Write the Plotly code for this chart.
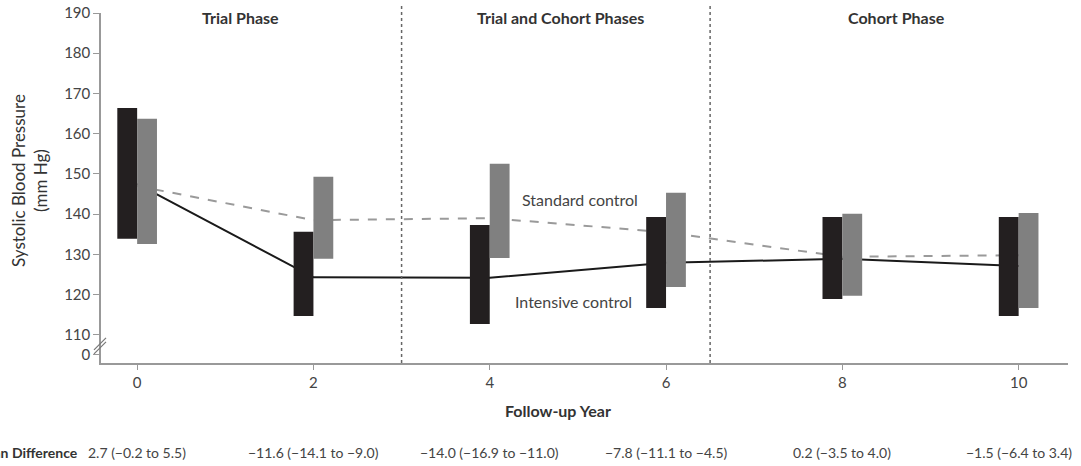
import plotly.graph_objects as go

years = [0, 2, 4, 6, 8, 10]
int_low = [133.9, 114.7, 112.7, 116.7, 118.9, 114.7]
int_high = [166.4, 135.6, 137.3, 139.3, 139.3, 139.3]
std_low = [132.6, 128.9, 129.1, 121.9, 119.7, 116.7]
std_high = [163.7, 149.3, 152.5, 145.3, 140.1, 140.3]
int_mean = [147.5, 124.3, 124.2, 127.9, 128.9, 127.1]
std_mean = [147.0, 138.5, 139.0, 135.5, 129.4, 129.8]
differences = ["2.7 (\u22120.2 to 5.5)", "\u221211.6 (\u221214.1 to \u22129.0)",
               "\u221214.0 (\u221216.9 to \u221211.0)", "\u22127.8 (\u221211.1 to \u22124.5)",
               "0.2 (\u22123.5 to 4.0)", "\u22121.5 (\u22126.4 to 3.4)"]
y_ticks = [105, 110, 120, 130, 140, 150, 160, 170, 180, 190]
y_ticktext = ["0", "110", "120", "130", "140", "150", "160", "170", "180", "190"]
phase_bounds = [3, 6.5]
phases = [("Trial Phase", 1.17), ("Trial and Cohort Phases", 4.8), ("Cohort Phase", 8.62)]

W = 0.225
FONT = "Lato"
L, T, PW, PH = 101, 13, 967, 350


def px_x(p):
    return (p - L) / PW


def px_y(p):
    return (T + PH - p) / PH


def rects(xs, lo, hi, left):
    rx, ry = [], []
    for x, a, b in zip(xs, lo, hi):
        x0 = x - W if left else x
        x1 = x if left else x + W
        rx += [x0, x1, x1, x0, x0, None]
        ry += [a, a, b, b, a, None]
    return rx, ry


fig = go.Figure()
fig.add_trace(go.Scatter(x=years, y=std_mean, mode="lines",
                         line=dict(color="#9a9a9a", width=2, dash="dash"),
                         showlegend=False, hoverinfo="skip"))
fig.add_trace(go.Scatter(x=years, y=int_mean, mode="lines",
                         line=dict(color="#1a1a1a", width=2),
                         showlegend=False, hoverinfo="skip"))
bx, by = rects(years, int_low, int_high, True)
fig.add_trace(go.Scatter(x=bx, y=by, mode="lines", fill="toself",
                         fillcolor="#231f20", line=dict(width=0, color="#231f20"),
                         showlegend=False, hoverinfo="skip"))
gx, gy = rects(years, std_low, std_high, False)
fig.add_trace(go.Scatter(x=gx, y=gy, mode="lines", fill="toself",
                         fillcolor="#808080", line=dict(width=0, color="#808080"),
                         showlegend=False, hoverinfo="skip"))

shapes = []
for b in phase_bounds:
    shapes.append(dict(type="line", xref="x", yref="paper", x0=b, x1=b, y0=0, y1=1.025,
                       line=dict(color="#666666", width=1.5, dash="dot")))
# axis break marks
for off in [0, 4]:
    shapes.append(dict(type="line", xref="paper", yref="y", xsizemode="pixel", ysizemode="pixel",
                       xanchor=0, yanchor=107.5, x0=-7, x1=5, y0=-5 - off, y1=7 - off,
                       line=dict(color="#777777", width=1.2), layer="above"))

annotations = []
for text, xc in phases:
    annotations.append(dict(text="<b>%s</b>" % text, x=xc, y=px_y(17), xref="x", yref="paper",
                            xanchor="center", yanchor="middle", showarrow=False,
                            font=dict(family=FONT, size=16, color="#333333")))
annotations.append(dict(text="Standard control", x=5.02, y=143.7, xref="x", yref="y",
                        xanchor="center", yanchor="middle", showarrow=False,
                        font=dict(family=FONT, size=16, color="#444444")))
annotations.append(dict(text="Intensive control", x=4.95, y=118.3, xref="x", yref="y",
                        xanchor="center", yanchor="middle", showarrow=False,
                        font=dict(family=FONT, size=16, color="#444444")))
annotations.append(dict(text="<b>Follow-up Year</b>", x=px_x(558), y=px_y(410),
                        xref="paper", yref="paper", xanchor="center", yanchor="middle",
                        showarrow=False, font=dict(family=FONT, size=16, color="#333333")))
annotations.append(dict(text="Systolic Blood Pressure<br>(mm Hg)", x=px_x(29), y=px_y(181),
                        xref="paper", yref="paper", xanchor="center", yanchor="middle",
                        textangle=-90, showarrow=False,
                        font=dict(family=FONT, size=17, color="#333333")))
annotations.append(dict(text="<b>Mean Difference</b>", x=px_x(80), y=px_y(452),
                        xref="paper", yref="paper", xanchor="right", yanchor="middle",
                        showarrow=False, font=dict(family=FONT, size=14, color="#333333")))
for x, t in zip(years, differences):
    annotations.append(dict(text=t, x=x, y=px_y(452), xref="x", yref="paper",
                            xanchor="center", yanchor="middle", showarrow=False,
                            font=dict(family=FONT, size=14, color="#444444")))

fig.update_layout(
    width=1081, height=466,
    margin=dict(l=L, r=1081 - L - PW, t=T, b=466 - T - PH),
    plot_bgcolor="white", paper_bgcolor="white",
    shapes=shapes, annotations=annotations,
    xaxis=dict(range=[-0.41, 10.56], tickvals=years, showline=True, linecolor="#999999",
               linewidth=1.5, ticks="outside", ticklen=5, tickcolor="#999999",
               showgrid=False, zeroline=False, automargin=False,
               tickfont=dict(family=FONT, size=15, color="#444444")),
    yaxis=dict(range=[103, 190], tickvals=y_ticks, ticktext=y_ticktext, showline=True,
               linecolor="#999999", linewidth=1.5, ticks="outside", ticklen=6,
               tickcolor="#999999", showgrid=False, zeroline=False, automargin=False,
               tickfont=dict(family=FONT, size=15, color="#444444")),
)
fig.write_html("out.html")
